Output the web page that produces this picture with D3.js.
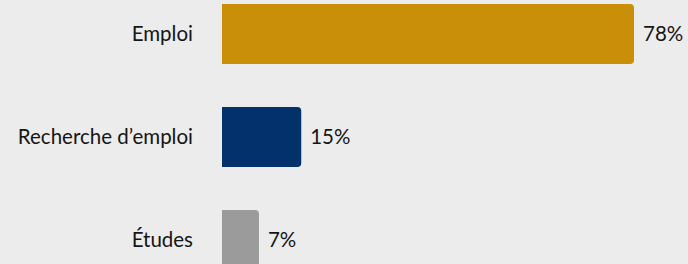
<!DOCTYPE html>
<html>
<head>
<meta charset="utf-8">
<script src="https://cdn.jsdelivr.net/npm/d3@7"></script>
<style>
  body { margin: 0; background: #ececec; }
  svg { display: block; }
  text { font-family: Lato, "Open Sans", sans-serif; fill: #151515; }
</style>
</head>
<body>
<div id="chart"></div>
<script>
// categories and values
var categories = ["Emploi", "Recherche d\u2019emploi", "\u00c9tudes"];
var values = [78, 15, 7];
var colours = ["#c98f08", "#02316b", "#9b9b9b"];

var width = 688, height = 264;

var svg = d3.select("#chart")
  .append("svg")
    .attr("width", width)
    .attr("height", height);

// x: percent to pixels, bars start at 222
var x = d3.scaleLinear()
  .domain([0, 78])
  .range([222, 634]);

// y: one band per category
var y = d3.scaleBand()
  .domain(categories)
  .range([4, 270])
  .paddingInner(43 / 103)
  .paddingOuter(0);

var r = 4;
// bar with rounded right corners only
function barPath(x0, x1, y0, h) {
  var rr = Math.min(r, (x1 - x0) / 2);
  return "M" + x0 + "," + y0 +
    "H" + (x1 - rr) +
    "Q" + x1 + "," + y0 + " " + x1 + "," + (y0 + rr) +
    "V" + (y0 + h - rr) +
    "Q" + x1 + "," + (y0 + h) + " " + (x1 - rr) + "," + (y0 + h) +
    "H" + x0 + "Z";
}

var data = categories.map(function(c, i) {
  return { name: c, value: values[i], colour: colours[i] };
});

svg.selectAll(".bar")
  .data(data)
  .enter().append("path")
    .attr("class", "bar")
    .attr("d", function(d) { return barPath(x(0), x(d.value), y(d.name), y.bandwidth()); })
    .style("fill", function(d) { return d.colour; });

// category labels, right aligned
svg.selectAll(".label")
  .data(data)
  .enter().append("text")
    .attr("class", "label")
    .attr("x", 193)
    .attr("y", function(d) { return y(d.name) + y.bandwidth() / 2; })
    .attr("dy", "0.35em")
    .attr("text-anchor", "end")
    .style("font-size", "20.5px")
    .text(function(d) { return d.name; });

// value labels
svg.selectAll(".value")
  .data(data)
  .enter().append("text")
    .attr("class", "value")
    .attr("x", function(d) { return x(d.value) + 9; })
    .attr("y", function(d) { return y(d.name) + y.bandwidth() / 2; })
    .attr("dy", "0.35em")
    .style("font-size", "20.5px")
    .text(function(d) { return d.value + "%"; });
</script>
</body>
</html>
